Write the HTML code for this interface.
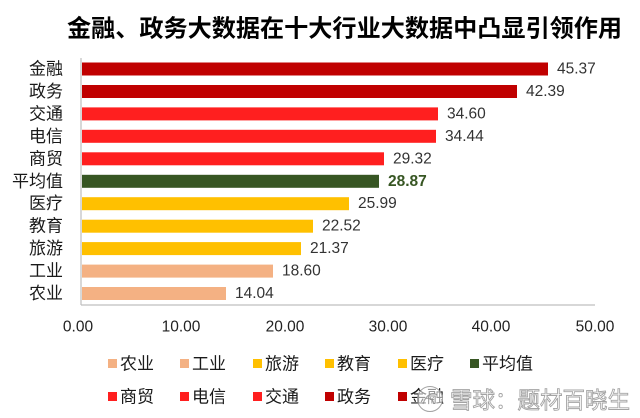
<!DOCTYPE html>
<html>
<head>
<meta charset="utf-8">
<style>
  html,body{margin:0;padding:0;background:#fff;}
  svg{display:block;}
  .cat{font-family:"Liberation Sans","Noto Sans CJK SC",sans-serif;font-size:17px;fill:#1a1a1a;}
  .val{font-family:"Liberation Sans","Noto Sans CJK SC",sans-serif;font-size:15.5px;fill:#333;}
  .tick{font-family:"Liberation Sans","Noto Sans CJK SC",sans-serif;font-size:15.5px;fill:#222;}
  .leg{font-family:"Liberation Sans","Noto Sans CJK SC",sans-serif;font-size:17px;fill:#1a1a1a;}
</style>
</head>
<body>
<svg width="640" height="418" viewBox="0 0 640 418" xmlns="http://www.w3.org/2000/svg">
  <rect width="640" height="418" fill="#fff"/>
  <!-- Title -->
  <text x="67" y="29" dominant-baseline="central" textLength="555" lengthAdjust="spacingAndGlyphs" style="font-family:'Liberation Sans','Noto Sans CJK SC',sans-serif;font-size:24px;font-weight:bold;fill:#000;">金融、政务大数据在十大行业大数据中凸显引领作用</text>

  <!-- axes -->
  <line x1="81" y1="58" x2="81" y2="305" stroke="#bfbfbf" stroke-width="1.2"/>
  <line x1="81" y1="305" x2="595" y2="305" stroke="#bfbfbf" stroke-width="1.2"/>

  <!-- bars: zero at 81.5, 10.31 px/unit, centers 69 + i*22.45 -->
  <g>
    <rect x="82" y="62.5" width="466" height="13" fill="#C00000"/>
    <rect x="82" y="85" width="435" height="13" fill="#C00000"/>
    <rect x="82" y="107.4" width="356" height="13" fill="#FF1F1F"/>
    <rect x="82" y="129.8" width="354" height="13" fill="#FF1F1F"/>
    <rect x="82" y="152.3" width="302" height="13" fill="#FF1F1F"/>
    <rect x="82" y="174.8" width="297" height="13" fill="#375623"/>
    <rect x="82" y="197.2" width="267" height="13" fill="#FFC000"/>
    <rect x="82" y="219.7" width="231" height="13" fill="#FFC000"/>
    <rect x="82" y="242.1" width="219" height="13" fill="#FFC000"/>
    <rect x="82" y="264.6" width="191" height="13" fill="#F4B183"/>
    <rect x="82" y="287" width="144" height="13" fill="#F4B183"/>
  </g>

  <!-- category labels -->
  <g class="cat" text-anchor="end">
    <text x="63" y="69" dominant-baseline="central">金融</text>
    <text x="63" y="91.5" dominant-baseline="central">政务</text>
    <text x="63" y="113.9" dominant-baseline="central">交通</text>
    <text x="63" y="136.3" dominant-baseline="central">电信</text>
    <text x="63" y="158.8" dominant-baseline="central">商贸</text>
    <text x="63" y="181.3" dominant-baseline="central">平均值</text>
    <text x="63" y="203.7" dominant-baseline="central">医疗</text>
    <text x="63" y="226.2" dominant-baseline="central">教育</text>
    <text x="63" y="248.6" dominant-baseline="central">旅游</text>
    <text x="63" y="271.1" dominant-baseline="central">工业</text>
    <text x="63" y="293.5" dominant-baseline="central">农业</text>
  </g>

  <!-- value labels -->
  <g class="val">
    <text x="557" y="69" dominant-baseline="central">45.37</text>
    <text x="526" y="91.5" dominant-baseline="central">42.39</text>
    <text x="447" y="113.9" dominant-baseline="central">34.60</text>
    <text x="445" y="136.3" dominant-baseline="central">34.44</text>
    <text x="393" y="158.8" dominant-baseline="central">29.32</text>
    <text x="388" y="181.3" dominant-baseline="central" style="fill:#375623;font-weight:bold;">28.87</text>
    <text x="358" y="203.7" dominant-baseline="central">25.99</text>
    <text x="322" y="226.2" dominant-baseline="central">22.52</text>
    <text x="310" y="248.6" dominant-baseline="central">21.37</text>
    <text x="282" y="271.1" dominant-baseline="central">18.60</text>
    <text x="235" y="293.5" dominant-baseline="central">14.04</text>
  </g>

  <!-- tick labels -->
  <g class="tick" text-anchor="middle">
    <text x="78" y="327" dominant-baseline="central">0.00</text>
    <text x="181" y="327" dominant-baseline="central">10.00</text>
    <text x="285" y="327" dominant-baseline="central">20.00</text>
    <text x="388" y="327" dominant-baseline="central">30.00</text>
    <text x="491" y="327" dominant-baseline="central">40.00</text>
    <text x="595" y="327" dominant-baseline="central">50.00</text>
  </g>

  <!-- legend row 1 -->
  <g class="leg">
    <rect x="108" y="359" width="9" height="9" fill="#F4B183"/>
    <text x="120" y="364" dominant-baseline="central">农业</text>
    <rect x="180" y="359" width="9" height="9" fill="#F4B183"/>
    <text x="192" y="364" dominant-baseline="central">工业</text>
    <rect x="253" y="359" width="9" height="9" fill="#FFC000"/>
    <text x="265" y="364" dominant-baseline="central">旅游</text>
    <rect x="325" y="359" width="9" height="9" fill="#FFC000"/>
    <text x="337" y="364" dominant-baseline="central">教育</text>
    <rect x="398" y="359" width="9" height="9" fill="#FFC000"/>
    <text x="410" y="364" dominant-baseline="central">医疗</text>
    <rect x="470" y="359" width="9" height="9" fill="#375623"/>
    <text x="482" y="364" dominant-baseline="central">平均值</text>
  </g>
  <!-- legend row 2 -->
  <g class="leg">
    <rect x="108" y="392" width="9" height="9" fill="#FF1F1F"/>
    <text x="120" y="397" dominant-baseline="central">商贸</text>
    <rect x="180" y="392" width="9" height="9" fill="#FF1F1F"/>
    <text x="192" y="397" dominant-baseline="central">电信</text>
    <rect x="253" y="392" width="9" height="9" fill="#FF1F1F"/>
    <text x="265" y="397" dominant-baseline="central">交通</text>
    <rect x="325" y="392" width="9" height="9" fill="#C00000"/>
    <text x="337" y="397" dominant-baseline="central">政务</text>
    <rect x="398" y="392" width="9" height="9" fill="#C00000"/>
    <text x="410" y="397" dominant-baseline="central">金融</text>
  </g>

  <!-- watermark -->
  <g opacity="0.9">
    <circle cx="430" cy="399" r="12.5" fill="rgba(255,255,255,0.6)" stroke="#9a9a9a" stroke-width="1"/>
    <path d="M423 404 C426 394, 433 392, 437 395 M425 399 C429 397, 433 399, 434 404" fill="none" stroke="#9a9a9a" stroke-width="1.2"/>
    <text x="450" y="400" dominant-baseline="central" textLength="180" lengthAdjust="spacingAndGlyphs" style="font-family:'Liberation Sans','Noto Sans CJK SC',sans-serif;font-size:23px;fill:#ffffff;stroke:#9a9a9a;stroke-width:0.9px;">雪球：题材百晓生</text>
  </g>
</svg>
</body>
</html>
